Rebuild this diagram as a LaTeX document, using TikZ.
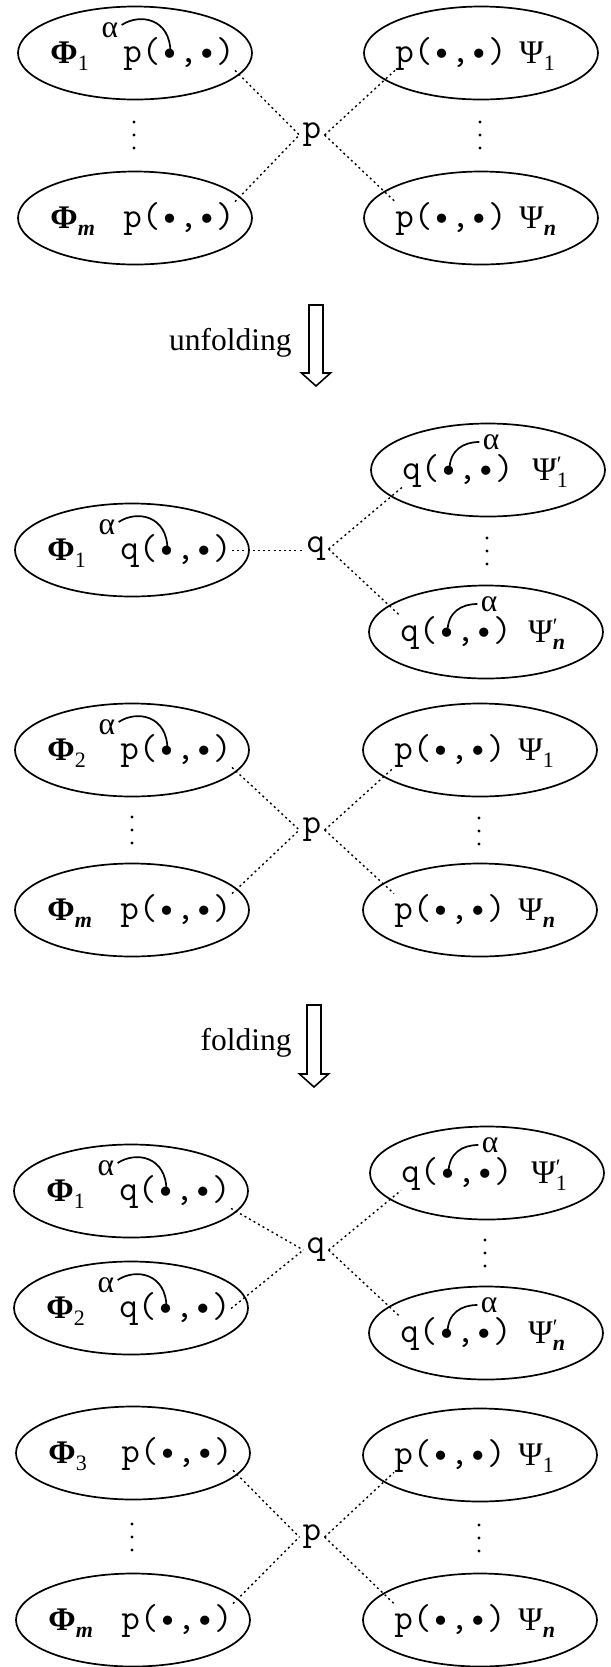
\documentclass[tikz,border=0pt]{standalone}
\usepackage{fontspec}
\setmainfont{Liberation Serif}
\usetikzlibrary{shapes.geometric}

% Greek label with a subscript, and with a primed subscript
\newcommand\GS[2]{#1\raisebox{-0.22em}{\fontsize{11pt}{11pt}\selectfont#2}}
\newcommand\GP[2]{#1\raisebox{-0.22em}{\fontsize{11pt}{11pt}\selectfont\rlap{\raisebox{0.72em}{′}}#2}}
\newcommand\subit[1]{\textbf{\textit{#1}}}
\newcommand\Phib{\textbf{Φ}}

\tikzset{
  clause/.style={draw, ellipse, line width=0.85pt, minimum width=117pt, minimum height=46.5pt, inner sep=0pt},
  term/.style={font=\ttfamily\fontsize{18pt}{20pt}\selectfont, inner sep=0pt, anchor=base west},
  greek/.style={font=\fontsize{16.5pt}{18pt}\selectfont, inner sep=0pt, anchor=base west},
  pred/.style={font=\ttfamily\fontsize{18pt}{20pt}\selectfont, inner sep=1.5pt},
  alab/.style={font=\fontsize{15.75pt}{18pt}\selectfont, inner sep=1.5pt},
  link/.style={line width=0.7pt, dash pattern=on 1pt off 1.6pt},
  hookline/.style={line width=0.85pt},
  bigarrow/.style={draw, line width=0.8pt, fill=white, line join=miter},
  caption/.style={font=\fontsize{15.75pt}{18pt}\selectfont, inner sep=0pt, anchor=base east}
}

% clause ellipse with the body label on the left and the atom on the right
\newcommand\Lclause[5]{%
  \node[clause] (#1) at (#2,#3) {};
  \node[greek] (#1g) at ({#2-85},{#3+10}) {#4};
  \node[term] (#1t) at ({#2-12},{#3+9}) {#5(•,•)};
  \path (#1t.base west) ++(47.5,-9) coordinate (#1d);
}
% clause ellipse with the atom on the left and the body label on the right
\newcommand\Rclause[6]{%
  \node[clause] (#1) at (#2,#3) {};
  \node[term] (#1t) at ({#2-86},{#3+9}) {#5(•,•)};
  \node[greek] (#1g) at ({#2+#6},{#3+10}) {#4};
  \path (#1t.base west) ++(47.5,-9) coordinate (#1d);
}
% argument annotation alpha, hooked onto the first argument
\newcommand\Lalpha[3]{%
  \node[alab] (#1a) at ({#2-25},{#3-23}) {α};
  \draw[hookline] ([yshift=2.5pt]#1a.east) .. controls +(18,-12) and +(0,-35) .. (#1d);
}
\newcommand\Ralpha[3]{%
  \node[alab] (#1a) at ({#2+3},{#3-28}) {α};
  \draw[hookline] (#1d) .. controls +(0,-20) and +(-16,0) .. (#1a.west);
}
\newcommand\vdotsat[2]{\foreach \k in {-1,0,1} {\fill (#1,{#2+13*\k}) circle (0.8pt);}}
\newcommand\bigdown[3]{%
  \draw[bigarrow] ({#1-7},#2) -- ({#1+7},#2) -- ({#1+7},{#3-13}) -- ({#1+14.5},{#3-13})
    -- (#1,#3) -- ({#1-14.5},{#3-13}) -- ({#1-7},{#3-13}) -- cycle;}

\begin{document}
\begin{tikzpicture}[x=0.5pt,y=-0.5pt]
\useasboundingbox (0,0) rectangle (611,1667);

% ---------- before unfolding ----------
\Lclause{ua}{135}{53}{\GS{\Phib}{1}}{p}\Lalpha{ua}{135}{53}
\Lclause{ub}{135}{218}{\GS{\Phib}{\subit{m}}}{p}
\Rclause{uc}{481}{53}{\GS{Ψ}{1}}{p}{38}
\Rclause{ud}{481}{218}{\GS{Ψ}{\subit{n}}}{p}{38}
\node[pred] (up) at (312,135) {p};
\draw[link] (uat.south east) -- (up.west);
\draw[link] (ubt.north east) -- (up.west);
\draw[link] (up.east) -- (uct.south west);
\draw[link] (up.east) -- (udt.north west);
\vdotsat{134}{135}
\vdotsat{480}{135}

\bigdown{316}{305}{386}
\node[caption] (cap1) at (292,350) {unfolding};

% ---------- after unfolding ----------
\Lclause{va}{132}{550}{\GS{\Phib}{1}}{q}\Lalpha{va}{132}{550}
\node[pred] (vq) at (316,549) {q};
\Rclause{vb}{488}{470}{\GP{Ψ}{1}}{q}{44}\Ralpha{vb}{488}{470}
\Rclause{vc}{486}{632}{\GP{Ψ}{\subit{n}}}{q}{42}\Ralpha{vc}{486}{632}
\draw[link] (vat.east) -- (vat.east -| vq.west);
\draw[link] (vq.east) -- (vbt.south west);
\draw[link] (vq.east) -- (vct.north west);
\vdotsat{487}{551}

\Lclause{vd}{132}{750}{\GS{\Phib}{2}}{p}\Lalpha{vd}{132}{750}
\Rclause{ve}{480}{750}{\GS{Ψ}{1}}{p}{38}
\node[pred] (vp) at (312,830) {p};
\Lclause{vf}{132}{910}{\GS{\Phib}{\subit{m}}}{p}
\Rclause{vg}{480}{910}{\GS{Ψ}{\subit{n}}}{p}{38}
\draw[link] (vdt.south east) -- (vp.west);
\draw[link] (vft.north east) -- (vp.west);
\draw[link] (vp.east) -- (vet.south west);
\draw[link] (vp.east) -- (vgt.north west);
\vdotsat{132}{830}
\vdotsat{479}{831}

\bigdown{314}{1005}{1087}
\node[caption] (cap2) at (292,1050) {folding};

% ---------- after folding ----------
\Lclause{wa}{131}{1191}{\GS{\Phib}{1}}{q}\Lalpha{wa}{131}{1191}
\Lclause{wb}{131}{1308}{\GS{\Phib}{2}}{q}\Lalpha{wb}{131}{1308}
\node[pred] (wq) at (316,1250) {q};
\Rclause{wc}{487}{1173}{\GP{Ψ}{1}}{q}{44}\Ralpha{wc}{487}{1173}
\Rclause{wd}{486}{1333}{\GP{Ψ}{\subit{n}}}{q}{42}\Ralpha{wd}{486}{1333}
\draw[link] (wat.south east) -- (wq.west);
\draw[link] (wbt.east) -- (wq.west);
\draw[link] (wq.east) -- (wct.south west);
\draw[link] (wq.east) -- (wdt.north west);
\vdotsat{485}{1253}

\Lclause{we}{133}{1453}{\GS{\Phib}{3}}{p}
\Rclause{wf}{480}{1455}{\GS{Ψ}{1}}{p}{38}
\node[pred] (wp) at (312,1537) {p};
\Lclause{wg}{133}{1620}{\GS{\Phib}{\subit{m}}}{p}
\Rclause{wh}{480}{1620}{\GS{Ψ}{\subit{n}}}{p}{38}
\draw[link] (wet.south east) -- (wp.west);
\draw[link] (wgt.north east) -- (wp.west);
\draw[link] (wp.east) -- (wft.south west);
\draw[link] (wp.east) -- (wht.north west);
\vdotsat{132}{1537}
\vdotsat{479}{1538}
\end{tikzpicture}
\end{document}
